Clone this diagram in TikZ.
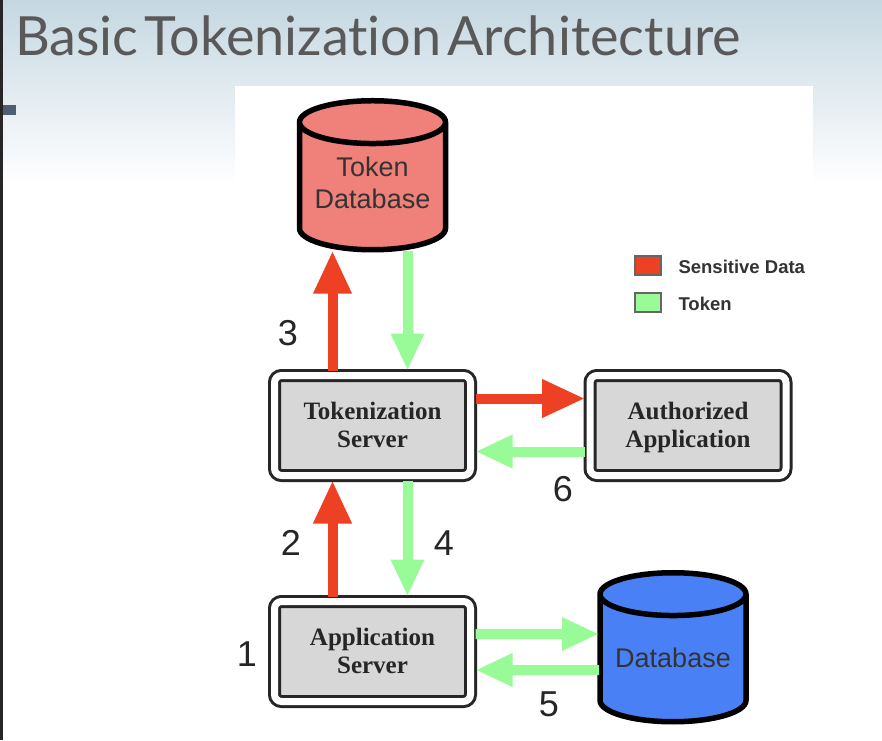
\documentclass[tikz,border=0pt]{standalone}
\usepackage{fontspec}
\setmainfont{Liberation Sans}
\newfontfamily\titlefont[Ligatures=NoCommon]{Lato}
\newfontfamily\srvfont{Liberation Serif}
\usepackage{xcolor}
\usetikzlibrary{arrows.meta,shapes.geometric,calc}
\definecolor{sensred}{HTML}{EE4023}
\definecolor{tokgreen}{HTML}{98FB98}
\definecolor{dbsalmon}{HTML}{F0807A}
\definecolor{dbblue}{HTML}{4A80F5}
\definecolor{srvgray}{HTML}{D7D7D7}
\definecolor{skytop}{HTML}{C5D7E1}
\definecolor{slatedash}{HTML}{4F5D73}
\newcommand{\srvstrut}{\rule[-6.4pt]{0pt}{28pt}}
\tikzset{
srv/.style={draw=black!85,fill=srvgray,double=white,double distance=7pt,line width=3pt,rounded corners=7pt,
  minimum width=196pt,minimum height=100pt,outer sep=5pt,align=center,text=black!85,
  font=\srvfont\bfseries\fontsize{25}{28}\selectfont},
dbcyl/.style={cylinder,shape border rotate=90,shape aspect=0.35,draw=black,line width=5.5pt,outer sep=1pt,
  minimum width=146pt,minimum height=149pt,align=center,text=black!80,
  font=\fontsize{27}{32}\selectfont},
redarrow/.style={draw=sensred,line width=10pt,-{Triangle[length=43pt,width=36pt]}},
greenarrow/.style={draw=tokgreen,line width=10pt,-{Triangle[length=37pt,width=31pt]}},
keybox/.style={draw=black!60,line width=2pt,minimum width=26pt,minimum height=19pt},
keytext/.style={anchor=west,text=black!80,font=\bfseries\fontsize{18.5}{21}\selectfont},
steplabel/.style={text=black!85,font=\fontsize{36}{42}\selectfont}
}
\begin{document}
\begin{tikzpicture}[x=1pt,y=-1pt]
\useasboundingbox (0,0) rectangle (882,740);
\fill[white] (0,0) rectangle (882,740);
\shade[top color=skytop,bottom color=white] (0,0) rectangle (882,185);
\fill[white] (235,86) rectangle (813,185);
\fill[black!85] (0,0) rectangle (3,740);
\fill[slatedash] (3,105) rectangle (16,115);
\node[anchor=base west,inner sep=0pt,text=black!65,font=\titlefont\fontsize{54}{60}\selectfont] (title) at (15,55) {\spaceskip=5.5pt Basic Tokenization Architecture};

\node[dbcyl,fill=dbsalmon] (tokendb) at (372.5,190.5) {\raisebox{7.5pt}[\height][\depth]{Token}\\\raisebox{7.5pt}[\height][\depth]{Database}};
\node[dbcyl,fill=dbblue] (appdb) at (673,662.5) {\raisebox{4.5pt}[\height][\depth]{Database}};
\node[srv] (tokensrv) at (372.5,425.5) {Tokenization\srvstrut\\Server\srvstrut};
\node[srv] (authapp) at (688,425.5) {Authorized\srvstrut\\Application\srvstrut};
\node[srv] (appsrv) at (372.5,651.5) {Application\srvstrut\\Server\srvstrut};

\draw[redarrow] ([xshift=-40pt]tokensrv.north) -- ([xshift=-40pt]tokendb.south);
\draw[greenarrow] ([xshift=35pt]tokendb.south) -- ([xshift=35pt]tokensrv.north);
\draw[redarrow] ([yshift=27pt]tokensrv.east) -- ([yshift=27pt]authapp.west);
\draw[greenarrow] ([yshift=-26pt]authapp.west) -- ([yshift=-26pt]tokensrv.east);
\draw[redarrow] ([xshift=-40pt]appsrv.north) -- ([xshift=-40pt]tokensrv.south);
\draw[greenarrow] ([xshift=35pt]tokensrv.south) -- ([xshift=35pt]appsrv.north);
\draw[greenarrow] ([yshift=17.5pt]appsrv.east) -- ([yshift=28.5pt]appdb.west);
\draw[greenarrow] ([yshift=-7.5pt]appdb.west) -- ([yshift=-18.5pt]appsrv.east);

\foreach \n/\xs/\ys/\label in {one/247/654/1,two/291/543/2,three/288/333/3,four/444/543/4,five/549/704/5,six/563/489/6}{
\node[steplabel] (step\n) at (\xs,\ys) {\label};
}
\node[keybox,fill=sensred] (keyred) at (648,265.5) {};
\node[keybox,fill=tokgreen] (keygreen) at (648,302.5) {};
\node[keytext] (keyredtext) at (675,267) {Sensitive Data};
\node[keytext] (keygreentext) at (675,304) {Token};
\end{tikzpicture}
\end{document}
